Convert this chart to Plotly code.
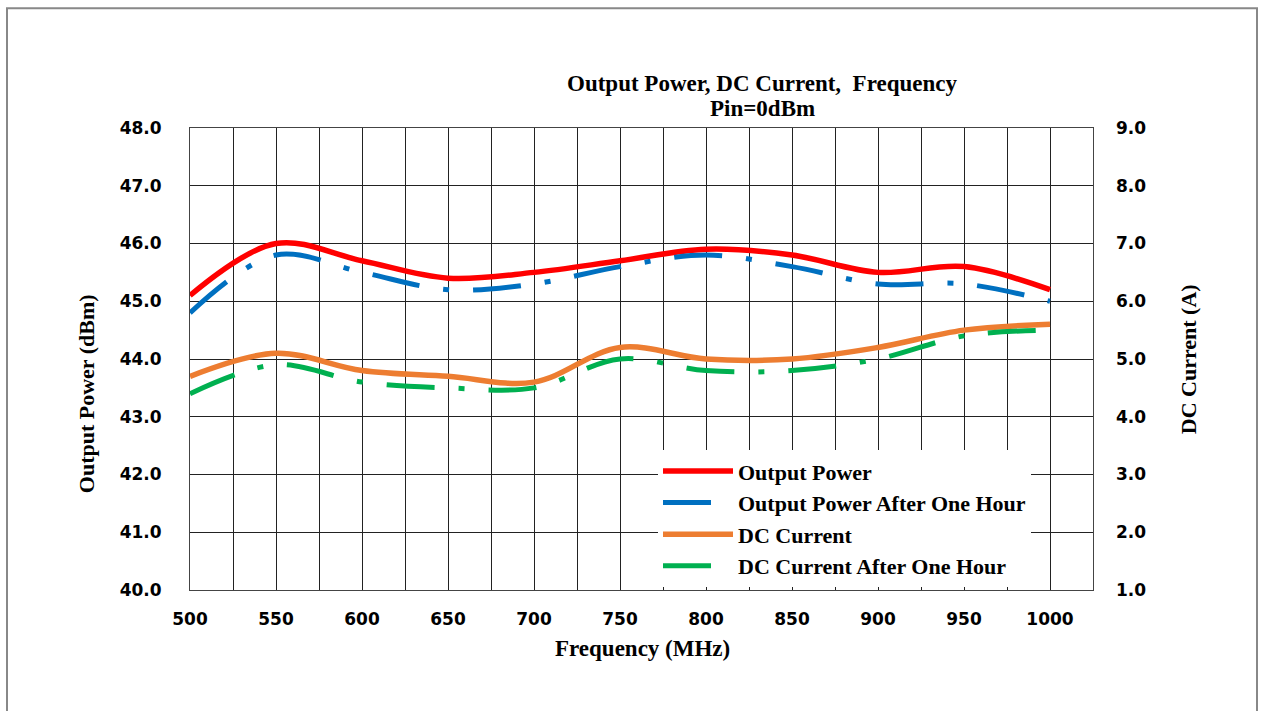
import plotly.graph_objects as go

freq = [500, 550, 600, 650, 700, 750, 800, 850, 900, 950, 1000]
output_power = [45.1, 46.0, 45.7, 45.4, 45.5, 45.7, 45.9, 45.8, 45.5, 45.6, 45.2]
output_power_1h = [44.8, 45.8, 45.5, 45.2, 45.3, 45.6, 45.8, 45.6, 45.3, 45.3, 45.0]
dc_current = [4.7, 5.1, 4.8, 4.7, 4.6, 5.2, 5.0, 5.0, 5.2, 5.5, 5.6]
dc_current_1h = [4.4, 4.9, 4.6, 4.5, 4.5, 5.0, 4.8, 4.8, 5.0, 5.4, 5.5]

serif = "Liberation Serif"
sans = "DejaVu Sans"

fig = go.Figure()
fig.add_trace(go.Scatter(x=freq, y=output_power, name="Output Power", mode="lines",
                         line=dict(color="#FF0000", width=5.5, shape="spline")))
fig.add_trace(go.Scatter(x=freq, y=output_power_1h, name="Output Power After One Hour", mode="lines",
                         line=dict(color="#0070C0", width=5, shape="spline", dash="48px,24px,6px,24px")))
fig.add_trace(go.Scatter(x=freq, y=dc_current, name="DC Current", mode="lines", yaxis="y2",
                         line=dict(color="#ED7D31", width=5.5, shape="spline")))
fig.add_trace(go.Scatter(x=freq, y=dc_current_1h, name="DC Current After One Hour", mode="lines", yaxis="y2",
                         line=dict(color="#00B050", width=5, shape="spline", dash="48px,24px,6px,24px")))

L, R, T, B = 190, 1093, 127.5, 590
W, H = 1261, 711
pw, ph = R - L, B - T

def px(x):
    return (x - L) / pw

def py(y):
    return (B - y) / ph

tfont = dict(family=sans, size=17, color="black", weight="bold")

def label(text, x, y, size=22, angle=0):
    return dict(text=text, x=px(x), y=py(y), xref="paper", yref="paper",
                xanchor="center", yanchor="middle", textangle=angle, showarrow=False,
                font=dict(family=serif, size=size, color="black", weight="bold"))

fig.update_layout(
    width=W, height=H,
    margin=dict(l=L, r=W - R, t=T, b=H - B, pad=0),
    paper_bgcolor="white", plot_bgcolor="white",
    showlegend=True,
    xaxis=dict(range=[500, 1025], dtick=50, tick0=500, showgrid=True, gridcolor="#222", gridwidth=1,
               minor=dict(dtick=25, showgrid=True, gridcolor="#222", gridwidth=1),
               showline=True, linecolor="#444", linewidth=1, mirror=True, zeroline=False,
               ticks="", ticklabelstandoff=14, tickfont=tfont),
    yaxis=dict(range=[40, 48], dtick=1, tickformat=".1f", showgrid=True, gridcolor="#222", gridwidth=1,
               showline=True, linecolor="#444", linewidth=1, mirror=True, zeroline=False,
               ticks="", ticklabelstandoff=24, tickfont=tfont),
    yaxis2=dict(range=[1, 9], dtick=1, tickformat=".1f", overlaying="y", side="right",
                showgrid=False, zeroline=False, ticks="", ticklabelstandoff=22, tickfont=tfont),
    legend=dict(x=px(658), y=py(450), xanchor="left", yanchor="top", bgcolor="white",
                borderwidth=0, itemwidth=70,
                font=dict(family=serif, size=22, color="black", weight="bold"),
                tracegroupgap=0),
    annotations=[
        label("Output Power, DC Current,  Frequency", 762, 83, 23),
        label("Pin=0dBm", 762, 108, 23),
        label("Output Power (dBm)", 86, 394, 22, -90),
        label("DC Current (A)", 1188, 359, 22, -90),
        label("Frequency (MHz)", 642, 649, 23),
    ],
    shapes=[dict(type="rect", xref="paper", yref="paper", x0=px(7), x1=px(1257), y0=py(720), y1=py(7.5),
                 line=dict(color="#888", width=2), fillcolor="rgba(0,0,0,0)", layer="below")],
)

fig.write_html("out.html", config={"displayModeBar": False},
               post_script="document.body.style.margin='0';document.body.style.padding='0';")
